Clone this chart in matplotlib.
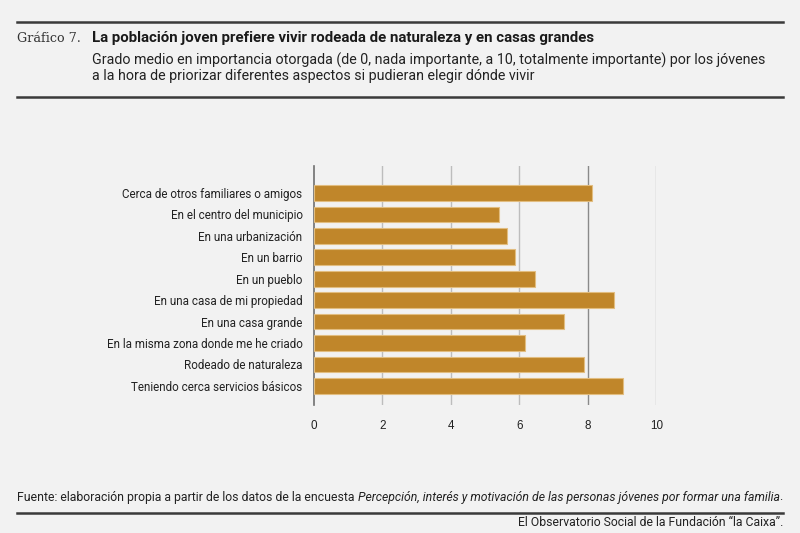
import numpy as np
import matplotlib
matplotlib.use('Agg')
from matplotlib import pyplot as plt
from matplotlib.lines import Line2D

# data
categories = ['Cerca de otros familiares o amigos', 'En el centro del municipio',
              'En una urbanización', 'En un barrio', 'En un pueblo',
              'En una casa de mi propiedad', 'En una casa grande',
              'En la misma zona donde me he criado', 'Rodeado de naturaleza',
              'Teniendo cerca servicios básicos']
values = [8.11, 5.41, 5.65, 5.88, 6.47, 8.76, 7.30, 6.18, 7.90, 9.02]
xticks = [0, 2, 4, 6, 8, 10]

bg = '#f2f2f2'
bar_col = '#c0862a'

fig = plt.figure(figsize=(8, 5.33), dpi=100, facecolor=bg)
ax = fig.add_axes([0.3921, 0.2402, 0.4283, 0.4484], facecolor=bg)

y = np.arange(len(categories))
ax.barh(y, values, height=0.73, color=bar_col, edgecolor='#e2bd80', linewidth=0.8, zorder=3)
ax.set_ylim(len(categories) - 1 + 0.89, -1.26)
ax.set_xlim(0, 10)

for t in xticks[1:]:
    ax.axvline(t, color='#8a8a8a' if t == 8 else '#bdbdbd', lw=1, zorder=1)

for s in ['top', 'right', 'bottom']:
    ax.spines[s].set_visible(False)
ax.spines['left'].set_color('#707070')
ax.spines['left'].set_linewidth(1.2)

ax.set_yticks(y)
ax.set_yticklabels(categories, fontsize=8.4, family='Roboto', color='#222222')
ax.set_xticks(xticks)
ax.set_xticklabels([str(t) for t in xticks], fontsize=8.4, family='Liberation Sans', color='#222222')
ax.tick_params(axis='both', length=0)
ax.tick_params(axis='x', pad=11)
ax.tick_params(axis='y', pad=8)

# header / footer rules
for yy in [21.5, 96.5, 512.5]:
    fig.add_artist(Line2D([17 / 800, 783 / 800], [1 - yy / 533] * 2,
                          color='#3a3a3a', lw=1.8, transform=fig.transFigure))

fig.text(17 / 800, 1 - 38 / 533, 'Gráfico 7.', fontsize=9.2, family='DejaVu Serif',
         color='#333333', va='center')
fig.text(92 / 800, 1 - 38 / 533,
         'La población joven prefiere vivir rodeada de naturaleza y en casas grandes',
         fontsize=10.8, family='Roboto', weight='bold', color='#1a1a1a',
         va='center')
fig.text(92 / 800, 1 - 60 / 533,
         'Grado medio en importancia otorgada (de 0, nada importante, a 10, totalmente importante) por los jóvenes',
         fontsize=10.3, family='Roboto', color='#222222', va='center')
fig.text(92 / 800, 1 - 76 / 533,
         'a la hora de priorizar diferentes aspectos si pudieran elegir dónde vivir',
         fontsize=10.3, family='Roboto', color='#222222', va='center')

src1 = 'Fuente: elaboración propia a partir de los datos de la encuesta '
src2 = 'Percepción, interés y motivación de las personas jóvenes por formar una familia'
t1 = fig.text(17 / 800, 1 - 497 / 533, src1, fontsize=8.8, family='Roboto',
              color='#222222', va='center')
fig.canvas.draw()
r = fig.canvas.get_renderer()
bb = t1.get_window_extent(renderer=r)
t2 = fig.text(bb.x1 / 800, 1 - 497 / 533, src2, fontsize=8.8, family='Roboto',
              style='italic', color='#222222', va='center')
bb2 = t2.get_window_extent(renderer=r)
fig.text(bb2.x1 / 800, 1 - 497 / 533, '.', fontsize=8.8, family='Roboto',
         color='#222222', va='center')

fig.text(783 / 800, 1 - 523 / 533, 'El Observatorio Social de la Fundación “la Caixa”.',
         fontsize=8.8, family='Roboto', color='#222222', va='center', ha='right')

fig.savefig('out.png', dpi=100, facecolor=bg)
